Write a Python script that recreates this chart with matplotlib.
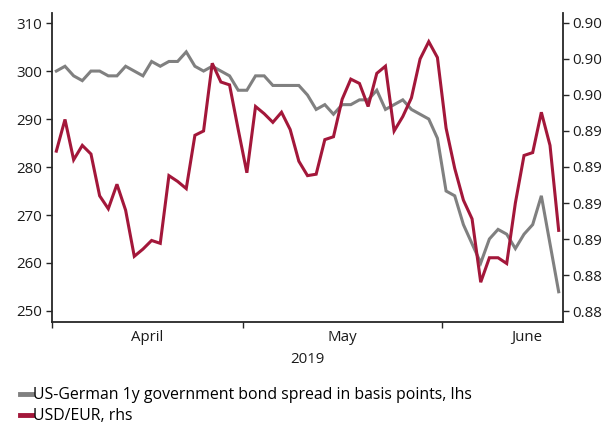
import numpy as np
import pandas as pd
import matplotlib
matplotlib.use("Agg")
import matplotlib.pyplot as plt
from matplotlib.ticker import FixedLocator, FuncFormatter

plt.rcParams["font.family"] = ["Open Sans", "DejaVu Sans"]

# business days, 1 April - 20 June 2019
dates = pd.bdate_range("2019-04-01", "2019-06-20")

# US-German 1y government bond spread, basis points (lhs)
spread = [300, 301, 299, 298, 300, 300, 299, 299, 301, 300, 299, 302, 301, 302, 302,
          304, 301, 300, 301, 300, 299, 296, 296, 299, 299, 297, 297, 297, 297, 295,
          292, 293, 291, 293, 293, 294, 294, 296, 292, 293, 294, 292, 291, 290, 286,
          275, 274, 268, 264, 260, 265, 267, 266, 263, 266, 268, 274, 264, 254]

# USD/EUR (rhs)
usd_eur = [0.8911, 0.8933, 0.8905, 0.8915, 0.8909, 0.8880, 0.8871, 0.8888, 0.8870, 0.8838,
           0.8843, 0.8849, 0.8847, 0.8894, 0.8890, 0.8885, 0.8922, 0.8925, 0.8972, 0.8959,
           0.8957, 0.8926, 0.8896, 0.8942, 0.8937, 0.8931, 0.8938, 0.8926, 0.8904, 0.8894,
           0.8895, 0.8919, 0.8921, 0.8947, 0.8961, 0.8958, 0.8942, 0.8965, 0.8970, 0.8925,
           0.8935, 0.8948, 0.8975, 0.8987, 0.8976, 0.8927, 0.8899, 0.8877, 0.8864, 0.8820,
           0.8837, 0.8837, 0.8833, 0.8875, 0.8908, 0.8910, 0.8938, 0.8915, 0.8856]

months = ["April", "May", "June"]
year_label = "2019"
spread_ticks = [250, 260, 270, 280, 290, 300, 310]
fx_ticks = [0.88, 0.8825, 0.885, 0.8875, 0.89, 0.8925, 0.895, 0.8975, 0.90]

labels = ["US-German 1y government bond spread in basis points, lhs", "USD/EUR, rhs"]
gray = "#808080"
red = "#A3173A"
spine_col = "#262626"
txt_col = "#1a1a1a"
fs = 10.8

x = np.arange(len(dates))
month_no = dates.month.values

fig = plt.figure(figsize=(6.08, 4.28), dpi=100)
ax = fig.add_axes([52 / 608, 1 - 322 / 428, (563 - 52) / 608, (322 - 13) / 428])
ax2 = ax.twinx()

l1, = ax.plot(x, spread, color=gray, lw=2.2, solid_joinstyle="miter")
l2, = ax2.plot(x, usd_eur, color=red, lw=2.2, solid_joinstyle="miter")

ax.set_xlim(-0.5, len(x) - 0.5)
ax.set_ylim(247.7, 312.1)
ax2.set_ylim(0.87924, 0.90069)

ax.set_yticks(spread_ticks)
ax2.yaxis.set_major_locator(FixedLocator(fx_ticks))
ax2.yaxis.set_major_formatter(FuncFormatter(lambda v, p: f"{v + 1e-9:.2f}"))

# month boundaries as ticks, names centred under each month
bounds = [x[month_no == m].min() - 0.5 for m in np.unique(month_no)]
centers = [x[month_no == m].mean() for m in np.unique(month_no)]
centers[-1] += 2.8  # label sits right of centre in the original
ax.set_xticks(bounds)
ax.set_xticklabels([])
ax.set_xticks(centers, minor=True)
ax.set_xticklabels(months, minor=True)
ax.tick_params(axis="x", which="minor", length=0, pad=6)
ax.set_xlabel(year_label, fontsize=fs, labelpad=5, color=txt_col)

for a in (ax, ax2):
    a.spines["top"].set_visible(False)
    for s in ("left", "right", "bottom"):
        a.spines[s].set_color(spine_col)
        a.spines[s].set_linewidth(1.3)
    a.tick_params(which="major", length=4, width=1, color=spine_col,
                  labelsize=fs, labelcolor=txt_col, pad=3)
ax.tick_params(axis="x", which="minor", labelsize=fs, labelcolor=txt_col)
ax.spines["right"].set_visible(False)
ax2.spines["left"].set_visible(False)
ax2.spines["bottom"].set_visible(False)

fig.legend([l1, l2], labels, loc="lower left", bbox_to_anchor=(0.018, -0.014),
           frameon=False, fontsize=11.4, handlelength=0.7, handletextpad=0.12,
           labelspacing=0.32, borderaxespad=0.2)
for h in fig.legends[0].legend_handles:
    h.set_linewidth(3.5)

fig.savefig("out.png", dpi=100)
